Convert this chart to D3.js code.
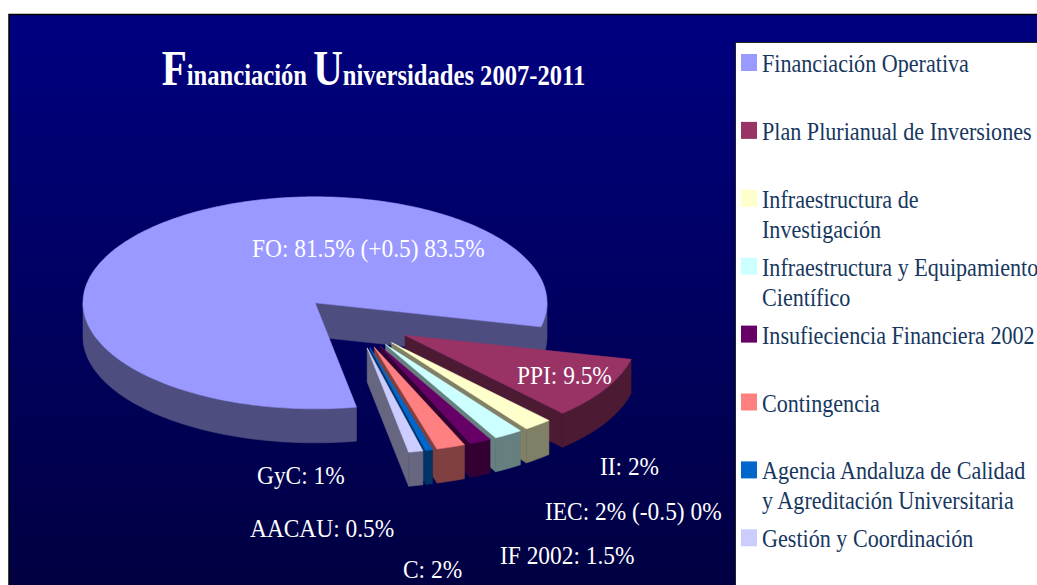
<!DOCTYPE html>
<html><head><meta charset="utf-8">
<script src="https://cdn.jsdelivr.net/npm/d3@7"></script>
<style>html,body{margin:0;padding:0;background:#fff;overflow:hidden}svg{display:block}</style>
</head><body>
<svg id="c" width="1037" height="585"></svg>
<script>
// ---- data ----
const categories = ["Financiación Operativa","Plan Plurianual de Inversiones","Infraestructura de Investigación","Infraestructura y Equipamiento Científico","Insufieciencia Financiera 2002","Contingencia","Agencia Andaluza de Calidad y Agreditación Universitaria","Gestión y Coordinación"];
const legendLines = [["Financiación Operativa"],["Plan Plurianual de Inversiones"],["Infraestructura de","Investigación"],["Infraestructura y Equipamiento","Científico"],["Insufieciencia Financiera 2002"],["Contingencia"],["Agencia Andaluza de Calidad","y Agreditación Universitaria"],["Gestión y Coordinación"]];
const values = [81.5, 9.5, 2, 2, 1.5, 2, 0.5, 1];
const labelTexts = ["FO: 81.5% (+0.5) 83.5%","PPI: 9.5%","II: 2%","IEC: 2% (-0.5) 0%","IF 2002: 1.5%","C: 2%","AACAU: 0.5%","GyC: 1%"];
const colors = ["#9999FF","#993366","#FFFFCC","#CCFFFF","#660066","#FF8080","#0066CC","#CCCCFF"];
const titleParts = [["F",true],["inanciación ",false],["U",true],["niversidades 2007-2011",false]];

// ---- layout ----
const W = 1037, H = 585;
const cx = 355, cy = 322, rx = 232, ry = 106, depth = 34, explode = 0.25;
const startDeg = 169.7;
const labelPos = [[252,257],[517,384],[600,475],[545,520],[500,564],[403,578],[250,537],[257,484]];

const svg = d3.select("#c");
const defs = svg.append("defs");
const grad = defs.append("linearGradient").attr("id","bg").attr("x1",0).attr("y1",0).attr("x2",0).attr("y2",1);
grad.append("stop").attr("offset","0%").attr("stop-color","#000080");
grad.append("stop").attr("offset","100%").attr("stop-color","#000040");

svg.append("rect").attr("x",9).attr("y",14.5).attr("width",W+10).attr("height",H).attr("fill","url(#bg)").attr("stroke","#000").attr("stroke-width",1.5);

// title
const title = svg.append("text").attr("transform","translate(373.5,85) scale(0.82,1)")
  .attr("text-anchor","middle").attr("font-family","'Liberation Serif','Times New Roman',serif")
  .attr("font-weight","bold").attr("fill","#fff");
titleParts.forEach(([t,big]) => title.append("tspan").attr("font-size", big?50:30).text(t));

// pie geometry
const pie = d3.pie().sort(null).value(d=>d)
  .startAngle(startDeg*Math.PI/180).endAngle(startDeg*Math.PI/180 + 2*Math.PI);
const arcs = pie(values).map((d,i)=>{
  const mid = (d.startAngle+d.endAngle)/2;
  const ax = cx + explode*rx*Math.sin(mid), ay = cy - explode*ry*Math.cos(mid);
  return {i, a0:d.startAngle, a1:d.endAngle, mid, ax, ay};
});
const pt = (s,a,dz=0) => [s.ax + rx*Math.sin(a), s.ay - ry*Math.cos(a) + dz];
const arcPts = (s,a0,a1,dz=0) => {
  const n = Math.max(2, Math.ceil((a1-a0)/(Math.PI/180)));
  return d3.range(n+1).map(k => pt(s, a0+(a1-a0)*k/n, dz));
};
const shade = (c,f) => { const r=d3.rgb(c); return d3.rgb(r.r*f,r.g*f,r.b*f).formatHex(); };
const line = d3.line();

const order = arcs.slice().sort((a,b)=> (-Math.cos(a.mid)) - (-Math.cos(b.mid)));
const gPie = svg.append("g");
order.forEach(s=>{
  const g = gPie.append("g");
  const wall = shade(colors[s.i],0.5);
  for (let k=-1;k<=2;k++){
    const lo = Math.max(s.a0, Math.PI/2 + 2*Math.PI*k), hi = Math.min(s.a1, 3*Math.PI/2 + 2*Math.PI*k);
    if (hi > lo){
      const top = arcPts(s,lo,hi), bot = arcPts(s,lo,hi,depth).reverse();
      g.append("path").attr("d", line(top.concat(bot))+"Z").attr("fill",wall).attr("stroke",wall).attr("stroke-width",0.6);
    }
  }
  [[s.a0, s.a0-Math.PI/2],[s.a1, s.a1+Math.PI/2]].forEach(([a,n])=>{
    if (Math.cos(n) < 0){
      const p = pt(s,a);
      const poly = [[s.ax,s.ay],p,[p[0],p[1]+depth],[s.ax,s.ay+depth]];
      g.append("path").attr("d", line(poly)+"Z").attr("fill",wall).attr("stroke",wall).attr("stroke-width",0.6);
    }
  });
  const topPts = [[s.ax,s.ay]].concat(arcPts(s,s.a0,s.a1));
  g.append("path").attr("d", line(topPts)+"Z").attr("fill",colors[s.i]).attr("stroke",colors[s.i]).attr("stroke-width",0.6);
});

// data labels
svg.append("g").selectAll("text").data(labelTexts).join("text")
  .attr("transform",(d,i)=>`translate(${labelPos[i][0]},${labelPos[i][1]}) scale(0.9,1)`)
  .attr("font-family","'Liberation Serif','Times New Roman',serif").attr("font-size",26)
  .attr("fill","#fff").text(d=>d);

// legend
svg.append("rect").attr("x",735.5).attr("y",42.5).attr("width",400).attr("height",600)
  .attr("fill","#fff").attr("stroke","#222").attr("stroke-width",1);
const lg = svg.append("g").selectAll("g").data(categories).join("g")
  .attr("transform",(d,i)=>`translate(741,${54 + i*67.9})`);
lg.append("rect").attr("width",16).attr("height",17).attr("fill",(d,i)=>colors[i]);
lg.each(function(d,i){
  legendLines[i].forEach((ln,j)=>{
    d3.select(this).append("text").attr("transform",`translate(21,${18+j*30}) scale(0.885,1)`)
      .attr("font-family","'Liberation Serif','Times New Roman',serif").attr("font-size",25)
      .attr("fill","#17375E").text(ln);
  });
});
</script>
</body></html>
